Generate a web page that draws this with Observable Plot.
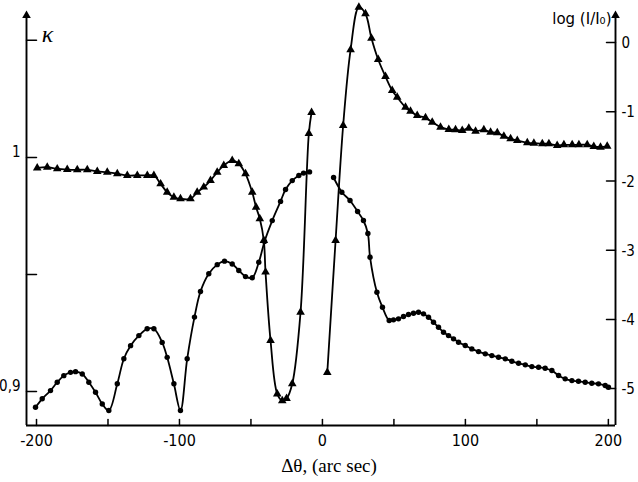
<!DOCTYPE html>
<html>
<head>
<meta charset="utf-8">
<script src="https://cdn.jsdelivr.net/npm/d3@7"></script>
<script src="https://cdn.jsdelivr.net/npm/@observablehq/plot@0.6"></script>
<style>
  html, body { margin: 0; padding: 0; background: #fff; }
  #chart { width: 638px; height: 482px; }
</style>
</head>
<body>
<div id="chart"></div>
<script>
// ---- Axes / ticks ----
const X_DOMAIN = [-207, 205];          // Δθ (arc sec)
const K_DOMAIN = [0.8855, 1.0606];     // κ (left axis)
const X_TICKS = [-200, -150, -100, -50, 0, 50, 100, 150, 200];
const X_LABELS = [-200, -100, 0, 100, 200];
const K_TICKS = [0.9, 0.95, 1, 1.05];
const K_LABELS = [0.9, 1];
const LOG_TICKS = [0, -1, -2, -3, -4, -5];  // log(I/I0) (right axis)
// right axis expressed on the left (κ) scale: κ = LOG0 + LOGSTEP * log
const LOG0 = 1.0491;
const LOGSTEP = 0.02957;
const toK = L => LOG0 + LOGSTEP * L;

// ---- Series: κ, triangles (upper curve, left side) ----
const kTriTheta = [-199.5,-192.5,-185.5,-178.5,-171.5,-164.5,-157.5,-150.5,-143.5,-136.5,-129.5,-122.5,-117.9,-113.2,-108.6,-103.9,-99.3,-92.3,-87.6,-83.0,-78.3,-73.6,-69.0,-63.1,-58.5,-53.8,-49.1,-46.4,-43.8,-41.0,-39.8,-36.3,-31.6,-28.1,-25.1,-21.1,-15.3,-9.5,-7.6];
const kTriValue = [0.9955,0.9958,0.9951,0.9948,0.9947,0.9947,0.9940,0.9937,0.9930,0.9923,0.9923,0.9923,0.9923,0.9887,0.9851,0.9830,0.9823,0.9823,0.9851,0.9873,0.9901,0.9937,0.9965,0.9987,0.9973,0.9930,0.9851,0.9787,0.9738,0.9645,0.9510,0.9218,0.8990,0.8961,0.8970,0.9033,0.9339,1.0102,1.0192];

// ---- Series: κ, dots (lower curve, left side) ----
const kDotTheta = [-200.7,-196.0,-190.2,-185.5,-180.9,-176.2,-172.7,-168.0,-163.4,-158.7,-154.0,-149.4,-143.5,-138.9,-134.2,-128.4,-122.6,-117.9,-112.1,-108.6,-103.9,-99.3,-94.6,-89.5,-85.3,-79.5,-73.6,-68.5,-63.1,-58.5,-53.8,-49.1,-44.5,-40.5,-35.1,-29.3,-25.8,-21.1,-16.5,-13.2,-9.0];
const kDotValue = [0.8933,0.8969,0.9004,0.9040,0.9068,0.9082,0.9085,0.9075,0.9040,0.8997,0.8947,0.8919,0.9033,0.9140,0.9196,0.9239,0.9268,0.9268,0.9210,0.9146,0.9033,0.8919,0.9140,0.9318,0.9427,0.9503,0.9542,0.9557,0.9545,0.9517,0.9491,0.9486,0.9552,0.9641,0.9730,0.9812,0.9863,0.9901,0.9923,0.9933,0.9938];

// ---- Series: log(I/I0), triangles (upper curve, right side) ----
const logTriTheta = [3.4,9.2,14.5,19.7,25.5,30.1,34.3,39.0,44.1,48.8,52.3,58.1,61.6,66.3,72.1,76.8,82.6,88.4,93.1,97.8,102.4,107.1,112.9,117.6,122.3,126.9,131.6,136.3,143.3,147.9,153.8,158.4,164.2,168.9,174.7,179.4,185.2,189.8,194.5,199.2];
const logTriValue = [-4.768,-2.861,-1.200,-0.106,0.509,0.414,0.061,-0.246,-0.492,-0.694,-0.791,-0.936,-0.993,-1.055,-1.089,-1.152,-1.224,-1.258,-1.262,-1.272,-1.239,-1.282,-1.262,-1.297,-1.305,-1.354,-1.392,-1.417,-1.450,-1.455,-1.464,-1.464,-1.489,-1.479,-1.479,-1.479,-1.479,-1.503,-1.513,-1.499];

// ---- Series: log(I/I0), dots (lower curve, right side) ----
const logDotTheta = [7.8,13.6,19.3,24.6,28.7,31.8,33.3,38.1,42.0,46.7,49.7,53.2,56.7,60.2,63.7,67.2,70.7,74.2,77.7,81.2,84.7,88.2,91.7,95.2,99.9,104.5,109.2,113.9,118.5,123.2,127.9,132.5,137.2,141.9,146.5,151.2,155.8,160.5,165.2,169.8,174.5,179.1,183.8,188.4,193.1,197.8,200.1];
const logDotValue = [-1.951,-2.163,-2.283,-2.442,-2.572,-2.760,-3.102,-3.608,-3.825,-4.017,-4.007,-3.992,-3.959,-3.930,-3.911,-3.897,-3.920,-3.969,-4.041,-4.114,-4.186,-4.234,-4.281,-4.330,-4.378,-4.426,-4.465,-4.498,-4.523,-4.547,-4.570,-4.605,-4.634,-4.657,-4.682,-4.692,-4.706,-4.739,-4.811,-4.859,-4.884,-4.894,-4.908,-4.923,-4.931,-4.956,-4.980];

// ---- Texts ----
const X_TITLE = "Δθ, (arc sec)";
const K_TITLE = "κ";
const LOG_TITLE = "log (I/I₀)";

// ---- build tables ----
const kTri = d3.zip(kTriTheta, kTriValue).map(([t, v]) => ({t, k: v}));
const kDot = d3.zip(kDotTheta, kDotValue).map(([t, v]) => ({t, k: v}));
const lTri = d3.zip(logTriTheta, logTriValue).map(([t, v]) => ({t, k: toK(v)}));
const lDot = d3.zip(logDotTheta, logDotValue).map(([t, v]) => ({t, k: toK(v)}));

const tickShape = { draw(ctx, l) { ctx.moveTo(0, 0); ctx.lineTo(0, -l); } };
const narrow = "'Liberation Sans Narrow','DejaVu Sans Condensed','Roboto Condensed','Liberation Sans',sans-serif";
const LW = 1.8;

const series = [[kTri, "triangle"], [kDot, "circle"], [lTri, "triangle"], [lDot, "circle"]];

const chart = Plot.plot({
  width: 638,
  height: 482,
  marginLeft: 26,
  marginRight: 23,
  marginTop: 15,
  marginBottom: 57,
  x: { domain: X_DOMAIN, axis: null },
  y: { domain: K_DOMAIN, axis: null },
  style: { background: "white", color: "black", fontFamily: narrow, fontSize: "15px" },
  marks: [
    // axis lines
    Plot.ruleX(X_DOMAIN, { stroke: "black", strokeWidth: 1.9 }),
    Plot.ruleY([K_DOMAIN[0]], { stroke: "black", strokeWidth: 1.9 }),
    Plot.dot(X_DOMAIN, { x: d => d, y: () => K_DOMAIN[1], symbol: "triangle", r: 3.2, fill: "black" }),
    // ticks (inward)
    Plot.vector(X_TICKS, { x: d => d, y: () => K_DOMAIN[0], length: 6, rotate: 0, anchor: "start", shape: tickShape, stroke: "black", strokeWidth: 1.5 }),
    Plot.vector(K_TICKS, { x: () => X_DOMAIN[0], y: d => d, length: 10, rotate: 90, anchor: "start", shape: tickShape, stroke: "black", strokeWidth: 1.5 }),
    Plot.vector(LOG_TICKS, { x: () => X_DOMAIN[1], y: d => toK(d), length: 9, rotate: -90, anchor: "start", shape: tickShape, stroke: "black", strokeWidth: 1.5 }),
    // tick labels
    Plot.text(X_LABELS, { ariaLabel: "ticklabels", x: d => d, y: () => K_DOMAIN[0], dy: 15, text: d => String(d), fontSize: 16, fontFamily: narrow, textAnchor: "middle", lineAnchor: "middle" }),
    Plot.text(K_LABELS, { ariaLabel: "ticklabels", x: () => X_DOMAIN[0], y: d => d, dx: -6, dy: -5, text: d => String(d).replace(".", ","), fontSize: 15, fontFamily: narrow, textAnchor: "end", lineAnchor: "middle" }),
    Plot.text(LOG_TICKS, { ariaLabel: "ticklabels", x: () => X_DOMAIN[1], y: d => toK(d), dx: 6, dy: 1, text: d => String(d), fontSize: 15, fontFamily: narrow, textAnchor: "start", lineAnchor: "middle" }),
    // axis titles
    Plot.text([K_TITLE], { frameAnchor: "top-left", dx: 21, dy: 19, text: d => d, fontSize: 24, fontStyle: "italic", fontFamily: "'Liberation Serif',serif", textAnchor: "middle", lineAnchor: "middle" }),
    Plot.text([LOG_TITLE], { frameAnchor: "top-right", dx: -4, dy: 4, text: d => d, fontSize: 15, fontFamily: "'DejaVu Sans',sans-serif", textAnchor: "end", lineAnchor: "middle" }),
    Plot.text([X_TITLE], { frameAnchor: "bottom", dx: 8, dy: 40, text: d => d, fontSize: 19, fontFamily: "'Liberation Serif',serif", textAnchor: "middle", lineAnchor: "middle" }),
    // data
    ...series.flatMap(([data, sym]) => [
      Plot.line(data, { x: "t", y: "k", curve: "catmull-rom", stroke: "black", strokeWidth: LW }),
      Plot.dot(data, { x: "t", y: "k", symbol: sym, r: sym === "circle" ? 2.7 : 3.2, fill: "black", stroke: "none" })
    ])
  ]
});
d3.select(chart).selectAll('g[aria-label="ticklabels"]').style("letter-spacing", "-1px");
document.getElementById("chart").appendChild(chart);
</script>
</body>
</html>
